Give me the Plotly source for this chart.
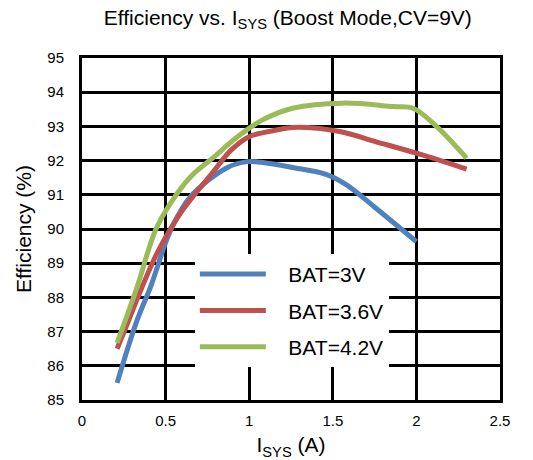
import plotly.graph_objects as go

# Efficiency curves in boost mode (CV = 9 V) for three battery voltages
i_bat3v = [0.21, 0.33, 0.41, 0.50, 0.54, 0.65, 0.87, 0.99, 1.07, 1.26, 1.46, 1.58, 1.76, 2.00]
eff_bat3v = [85.5, 87.34, 88.31, 89.6, 90.07, 90.95, 91.8, 91.97, 91.95, 91.8, 91.6, 91.3, 90.6, 89.63]

i_bat36v = [0.21, 0.28, 0.36, 0.45, 0.59, 0.78, 0.89, 1.00, 1.17, 1.26, 1.54, 1.76, 2.04, 2.30]
eff_bat36v = [86.5, 87.34, 88.31, 89.3, 90.47, 91.64, 92.3, 92.7, 92.9, 92.97, 92.85, 92.55, 92.16, 91.75]

i_bat42v = [0.21, 0.26, 0.33, 0.44, 0.53, 0.65, 0.79, 0.93, 1.08, 1.26, 1.56, 1.86, 1.98, 2.12, 2.30]
eff_bat42v = [86.67, 87.34, 88.31, 89.97, 90.76, 91.53, 92.11, 92.7, 93.19, 93.53, 93.68, 93.58, 93.53, 93.0, 92.07]

series = [
    ("BAT=3V", i_bat3v, eff_bat3v, "#4F81BD"),
    ("BAT=3.6V", i_bat36v, eff_bat36v, "#C0504D"),
    ("BAT=4.2V", i_bat42v, eff_bat42v, "#9BBB59"),
]

x_ticks = [0, 0.5, 1, 1.5, 2, 2.5]
y_ticks = list(range(85, 96))

FONT = "Liberation Sans, Arial, sans-serif"
GAP = "\u00a0\u00a0\u00a0"  # spacing between legend line and label

fig = go.Figure()
for k, (name, xs, ys, color) in enumerate(series):
    fig.add_trace(go.Scatter(
        x=xs, y=ys, name=GAP + name, mode="lines",
        line=dict(color=color, width=5, shape="spline", smoothing=1.0),
        legendgroup=f"g{k}",
    ))

fig.update_layout(
    width=533, height=460,
    margin=dict(l=82, r=33, t=58, b=60),
    paper_bgcolor="white", plot_bgcolor="white",
    font=dict(family=FONT, color="black"),
    title=dict(
        text="Efficiency vs. I<sub>SYS</sub> (Boost Mode,CV=9V)",
        x=0.54, xanchor="center", y=0.962, yanchor="middle",
        font=dict(size=21, family=FONT, color="black"),
    ),
    showlegend=True,
    legend=dict(
        x=0.27, y=0.427, xanchor="left", yanchor="top",
        bgcolor="white", borderwidth=0,
        font=dict(size=21, family=FONT, color="black"),
        itemwidth=66, tracegroupgap=6, traceorder="grouped",
    ),
)

fig.update_xaxes(
    range=[0, 2.5], tickvals=x_ticks, ticktext=[str(v) for v in x_ticks],
    showgrid=True, gridcolor="black", gridwidth=3,
    showline=True, linecolor="black", linewidth=3, mirror=True,
    zeroline=False, tickfont=dict(size=15), ticklabelstandoff=5,
    automargin=False,
    title=dict(text="I<sub>SYS</sub> (A)", font=dict(size=21), standoff=10),
)
fig.update_yaxes(
    range=[85, 95], tickvals=y_ticks,
    showgrid=True, gridcolor="black", gridwidth=3,
    showline=True, linecolor="black", linewidth=3, mirror=True,
    zeroline=False, tickfont=dict(size=15), ticklabelstandoff=12,
    automargin=False,
    title=dict(text="Efficiency (%)", font=dict(size=21), standoff=10),
)

fig.write_html("out.html")
